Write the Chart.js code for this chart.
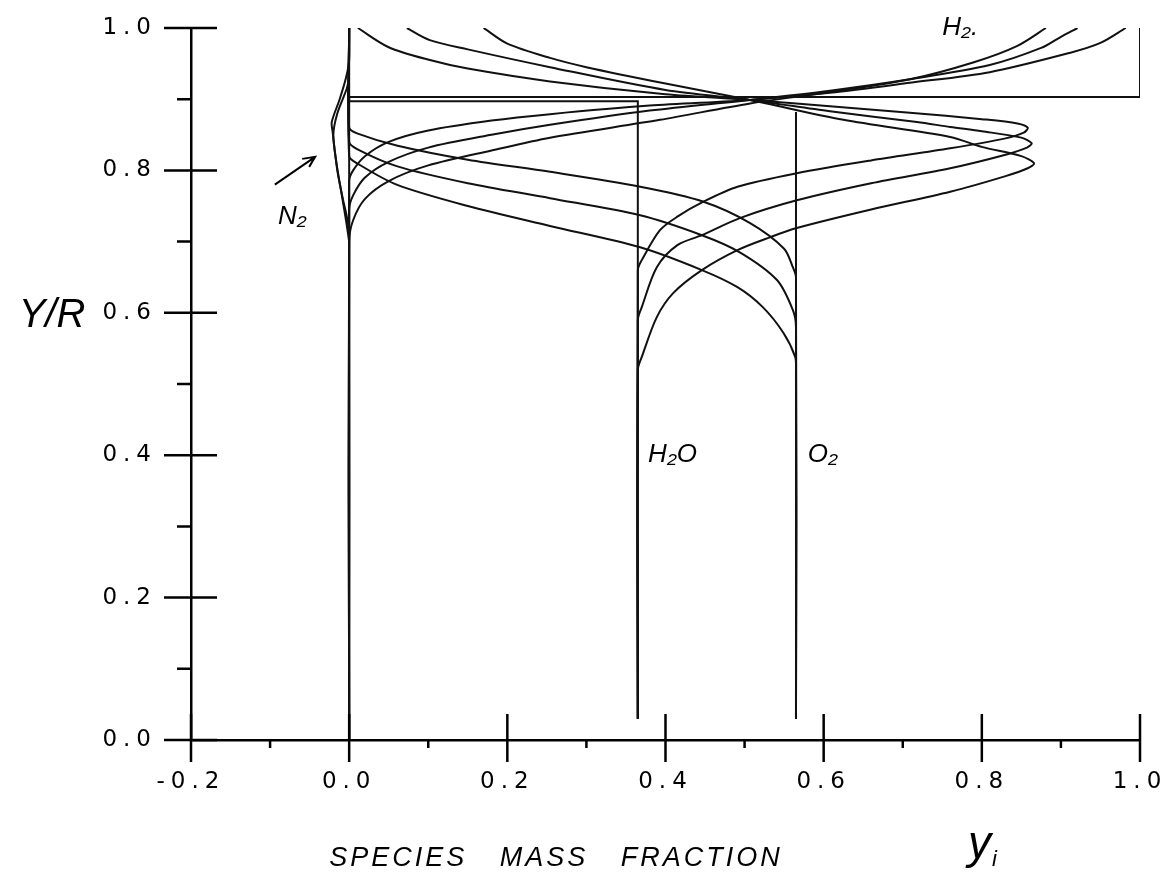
<!DOCTYPE html>
<html>
<head>
<meta charset="utf-8">
<script src="https://cdn.jsdelivr.net/npm/chart.js@4.4.1/dist/chart.umd.min.js"></script>
<style>html,body{margin:0;background:#fff}canvas{display:block}</style>
</head>
<body>
<canvas id="c" width="1174" height="880"></canvas>
<script>
// Y/R vs species mass fraction: inlet step + 3 downstream stations
const X_TICKS = [-0.2, 0, 0.2, 0.4, 0.6, 0.8, 1.0];
const X_MINOR = [-0.1, 0.1, 0.3, 0.5, 0.7, 0.9];
const Y_TICKS = [0, 0.2, 0.4, 0.6, 0.8, 1.0];
const Y_MINOR = [0.1, 0.3, 0.5, 0.7, 0.9];

// inlet (step) profiles
const H2_STEP  = [[1.0,1.0],[1.0,0.903],[0,0.903],[0,0]];
const H2O_STEP = [[0.365,0.03],[0.365,0.897],[0,0.897],[0,1.0]];
const O2_STEP  = [[0.565,0.03],[0.565,0.882]];

// H2 (wall side), three stations
const H2_A = [[0,0],[0,0.785],[0.005,0.80],[0.02,0.82],[0.05,0.84],[0.10,0.856],[0.18,0.87],[0.254,0.879],[0.38,0.891],[0.507,0.899],[0.608,0.909],[0.709,0.923],[0.810,0.938],[0.911,0.965],[0.95,0.979],[0.982,1.0]];
const H2_B = [[0,0],[0,0.745],[0.005,0.765],[0.02,0.79],[0.05,0.812],[0.10,0.832],[0.18,0.85],[0.254,0.864],[0.38,0.884],[0.507,0.899],[0.608,0.912],[0.709,0.928],[0.81,0.948],[0.875,0.972],[0.899,0.987],[0.921,1.0]];
const H2_C = [[0,0],[0,0.70],[0.005,0.73],[0.02,0.76],[0.05,0.785],[0.10,0.807],[0.18,0.828],[0.254,0.846],[0.393,0.871],[0.507,0.894],[0.608,0.91],[0.709,0.928],[0.79,0.952],[0.845,0.975],[0.881,1.0]];

// H2O, three stations
const H2O_A = [[0.365,0.03],[0.365,0.66],[0.370,0.674],[0.393,0.716],[0.415,0.735],[0.448,0.756],[0.491,0.777],[0.566,0.796],[0.66,0.814],[0.760,0.831],[0.83,0.845],[0.853,0.853],[0.858,0.860],[0.845,0.866],[0.80,0.872],[0.709,0.881],[0.608,0.890],[0.507,0.899],[0.40,0.907],[0.254,0.925],[0.15,0.943],[0.102,0.955],[0.05,0.973],[0.011,1.0]];
const H2O_B = [[0.365,0.03],[0.365,0.59],[0.370,0.608],[0.389,0.664],[0.415,0.695],[0.446,0.709],[0.494,0.733],[0.566,0.758],[0.66,0.782],[0.760,0.803],[0.83,0.822],[0.857,0.832],[0.863,0.838],[0.85,0.846],[0.80,0.855],[0.760,0.861],[0.718,0.868],[0.608,0.883],[0.507,0.899],[0.40,0.913],[0.254,0.945],[0.15,0.970],[0.102,0.983],[0.073,1.0]];
const H2O_C = [[0.365,0.03],[0.365,0.52],[0.370,0.538],[0.389,0.594],[0.410,0.628],[0.446,0.660],[0.491,0.688],[0.532,0.706],[0.566,0.719],[0.66,0.745],[0.760,0.770],[0.83,0.792],[0.858,0.803],[0.866,0.810],[0.85,0.82],[0.80,0.833],[0.760,0.847],[0.625,0.871],[0.507,0.899],[0.40,0.922],[0.30,0.945],[0.254,0.958],[0.20,0.978],[0.17,1.0]];

// O2, three stations
const O2_A = [[0.565,0.03],[0.565,0.65],[0.561,0.664],[0.55,0.69],[0.507,0.726],[0.448,0.756],[0.368,0.777],[0.254,0.798],[0.15,0.815],[0.06,0.835],[0.01,0.852],[0,0.86],[0,1.0]];
const O2_B = [[0.565,0.03],[0.565,0.58],[0.561,0.604],[0.541,0.646],[0.494,0.685],[0.446,0.709],[0.368,0.737],[0.254,0.761],[0.15,0.782],[0.06,0.806],[0.01,0.83],[0,0.84],[0,1.0]];
const O2_C = [[0.565,0.03],[0.565,0.52],[0.564,0.538],[0.549,0.572],[0.523,0.608],[0.491,0.636],[0.446,0.660],[0.368,0.692],[0.254,0.722],[0.15,0.75],[0.06,0.78],[0.01,0.81],[0,0.82],[0,1.0]];

// N2 (small negative excursion near the wall)
const N2_A = [[0,0],[0,0.71],[-0.003,0.735],[-0.008,0.76],[-0.015,0.80],[-0.021,0.855],[-0.022,0.868],[-0.012,0.90],[-0.004,0.93],[0,0.955],[0,1.0]];
const N2_B = [[0,0.70],[-0.004,0.73],[-0.01,0.77],[-0.016,0.81],[-0.02,0.85],[-0.015,0.88],[-0.003,0.915],[0,0.93]];

const STEPS  = [H2_STEP, H2O_STEP, O2_STEP];
const CURVES = [H2_A, H2_B, H2_C, H2O_A, H2O_B, H2O_C, O2_A, O2_B, O2_C, N2_A, N2_B];

const pts = a => a.map(p => ({x: p[0], y: p[1]}));
const ds = (a, t) => ({data: pts(a), showLine: true, pointRadius: 0, borderColor: '#111', borderWidth: 2, tension: t, fill: false});

const TICK_FONT = {family: '"DejaVu Sans"', size: 23};
const fmt = v => Math.abs(v) < 1e-9 ? '0.0' : v.toFixed(1);

// tick marks, handwritten labels and arrow
const marks = {
  id: 'marks',
  beforeDraw(chart) { chart.ctx.letterSpacing = '6px'; },
  afterDraw(chart) {
    const {ctx, scales: {x, y}} = chart;
    const x0 = x.getPixelForValue(-0.2), y0 = y.getPixelForValue(0);
    ctx.save();
    ctx.letterSpacing = '0px';
    ctx.strokeStyle = '#000'; ctx.lineWidth = 2.5; ctx.lineCap = 'butt';
    ctx.beginPath();
    X_TICKS.forEach(v => { const p = x.getPixelForValue(v); ctx.moveTo(p, y0 - 26); ctx.lineTo(p, y0 + 22); });
    X_MINOR.forEach(v => { const p = x.getPixelForValue(v); ctx.moveTo(p, y0); ctx.lineTo(p, y0 + 8); });
    Y_TICKS.forEach(v => { const p = y.getPixelForValue(v); ctx.moveTo(x0 - 27, p); ctx.lineTo(x0 + 26, p); });
    Y_MINOR.forEach(v => { const p = y.getPixelForValue(v); ctx.moveTo(x0 - 14, p); ctx.lineTo(x0, p); });
    ctx.stroke();

    // arrow to N2 curve
    ctx.lineWidth = 2;
    const ax1 = x.getPixelForValue(-0.094), ay1 = y.getPixelForValue(0.78);
    const ax2 = x.getPixelForValue(-0.043), ay2 = y.getPixelForValue(0.819);
    ctx.beginPath(); ctx.moveTo(ax1, ay1); ctx.lineTo(ax2, ay2);
    ctx.moveTo(ax2 - 13, ay2 + 2); ctx.lineTo(ax2, ay2); ctx.lineTo(ax2 - 6, ay2 + 10);
    ctx.stroke();

    ctx.fillStyle = '#000';
    ctx.textBaseline = 'alphabetic';
    const hand = s => `italic ${s}px "Liberation Sans"`;
    ctx.font = hand(26); ctx.textAlign = 'left';
    ctx.fillText('H\u2082.', x.getPixelForValue(0.75), y.getPixelForValue(0.99));
    ctx.fillText('H\u2082O', x.getPixelForValue(0.378), y.getPixelForValue(0.39));
    ctx.fillText('O\u2082', x.getPixelForValue(0.58), y.getPixelForValue(0.39));
    ctx.fillText('N\u2082', x.getPixelForValue(-0.09), y.getPixelForValue(0.725));

    ctx.font = hand(40); ctx.textAlign = 'center';
    ctx.fillText('Y/R', 52, y.getPixelForValue(0.58));

    ctx.font = hand(27); ctx.letterSpacing = '3px'; ctx.wordSpacing = '22px';
    ctx.fillText('SPECIES MASS FRACTION', 556, 866);
    ctx.letterSpacing = '0px'; ctx.wordSpacing = '0px';
    ctx.font = hand(46); ctx.textAlign = 'left';
    ctx.fillText('y', 968, 858);
    ctx.font = hand(22);
    ctx.fillText('i', 992, 866);
    ctx.restore();
  }
};

new Chart(document.getElementById('c'), {
  type: 'scatter',
  data: {datasets: STEPS.map(a => ds(a, 0)).concat(CURVES.map(a => ds(a, 0.3)))},
  options: {
    responsive: false, animation: false,
    layout: {autoPadding: false, padding: {top: 28, right: 34, left: 0, bottom: 0}},
    plugins: {legend: {display: false}, tooltip: {enabled: false}},
    scales: {
      x: {type: 'linear', min: -0.2, max: 1.0,
          afterFit: s => { s.height = 140; },
          grid: {display: false, drawTicks: true, tickLength: 28},
          border: {display: true, color: '#000', width: 2.5},
          ticks: {stepSize: 0.2, callback: fmt, color: '#000', font: TICK_FONT, padding: 0, maxRotation: 0}},
      y: {type: 'linear', min: 0, max: 1.0,
          afterFit: s => { s.width = 191; },
          grid: {display: false, drawTicks: true, tickLength: 34},
          border: {display: true, color: '#000', width: 2.5},
          ticks: {stepSize: 0.2, callback: fmt, color: '#000', font: TICK_FONT, padding: 0}}
    }
  },
  plugins: [marks]
});
</script>
</body>
</html>
